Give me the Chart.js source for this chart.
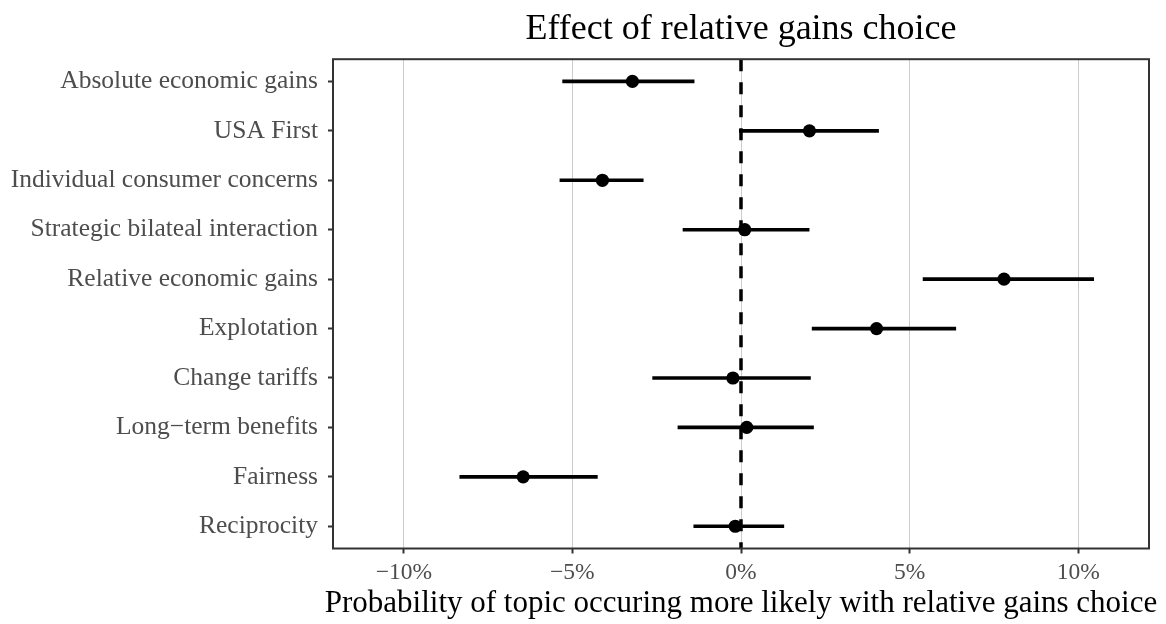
<!DOCTYPE html>
<html>
<head>
<meta charset="utf-8">
<script src="https://cdn.jsdelivr.net/npm/chart.js@4/dist/chart.umd.min.js"></script>
<style>
  html, body { margin: 0; padding: 0; background: #ffffff; }
  #wrap { width: 1166px; height: 624px; position: relative; }
</style>
</head>
<body>
<div id="wrap"><canvas id="c" width="1166" height="624"></canvas></div>
<script>
// ---- data (top-to-bottom order as shown) ----
const categories = [
  "Absolute economic gains",
  "USA First",
  "Individual consumer concerns",
  "Strategic bilateal interaction",
  "Relative economic gains",
  "Explotation",
  "Change tariffs",
  "Long\u2212term benefits",
  "Fairness",
  "Reciprocity"
];
const estimates = [-3.22, 2.03, -4.11, 0.11, 7.80, 4.02, -0.24, 0.17, -6.46, -0.17];
const lower     = [-5.29, -0.05, -5.37, -1.72, 5.40, 2.11, -2.62, -1.87, -8.34, -1.40];
const upper     = [-1.39, 4.08, -2.90, 2.02, 10.46, 6.37, 2.06, 2.15, -4.26, 1.27];
const xTickValues = [-10, -5, 0, 5, 10];
const xTickLabels = ["\u221210%", "\u22125%", "0%", "5%", "10%"];
const referenceX = 0;

const titleText = "Effect of relative gains choice";
const xTitleText = "Probability of topic occuring more likely with relative gains choice";

// ---- scale bounds ----
const X_MIN = -12.1, X_MAX = 12.1;
const Y_MIN = 0.55, Y_MAX = 10.45;

const FONT = "'Liberation Serif', 'Times New Roman', serif";

const panelBorder = {
  id: 'panelBorder',
  afterDatasetsDraw(chart) {
    const a = chart.chartArea, ctx = chart.ctx;
    ctx.save();
    ctx.strokeStyle = '#333333';
    ctx.lineWidth = 2;
    ctx.strokeRect(a.left, a.top, a.right - a.left, a.bottom - a.top);
    ctx.restore();
  }
};

// x-axis title drawn without Chart.js' maxWidth squeeze, centred on the panel
const xAxisTitle = {
  id: 'xAxisTitle',
  afterDraw(chart) {
    const a = chart.chartArea, ctx = chart.ctx;
    ctx.save();
    ctx.fillStyle = '#000000';
    ctx.font = "31px " + FONT;
    ctx.textAlign = 'center';
    ctx.textBaseline = 'alphabetic';
    ctx.fillText(xTitleText, (a.left + a.right) / 2, 612);
    ctx.restore();
  }
};

new Chart(document.getElementById('c'), {
  type: 'scatter',
  data: {
    datasets: [
      {
        type: 'line',
        label: 'zero',
        data: [{x: referenceX, y: Y_MIN}, {x: referenceX, y: Y_MAX}],
        borderColor: '#000000',
        borderWidth: 3.5,
        borderDash: [12, 11],
        pointRadius: 0,
        fill: false,
        order: 3
      },
      {
        type: 'bar',
        label: 'ci',
        indexAxis: 'y',
        data: categories.map((c, i) => ({y: i + 1, x: [lower[i], upper[i]]})),
        backgroundColor: '#000000',
        borderWidth: 0,
        barThickness: 3,
        order: 2
      },
      {
        type: 'scatter',
        label: 'est',
        data: categories.map((c, i) => ({x: estimates[i], y: i + 1})),
        backgroundColor: '#000000',
        borderColor: '#000000',
        pointRadius: 6.6,
        pointHoverRadius: 6.6,
        borderWidth: 0,
        order: 1
      }
    ]
  },
  options: {
    responsive: false,
    animation: false,
    events: [],
    layout: { padding: { left: 0, right: 17, top: 0, bottom: 0 } },
    plugins: {
      legend: { display: false },
      tooltip: { enabled: false },
      title: {
        display: true,
        text: titleText,
        fullSize: false,
        color: '#000000',
        font: { family: FONT, size: 36, weight: 'normal', lineHeight: 1.2 },
        padding: { top: 8, bottom: 8 }
      }
    },
    scales: {
      x: {
        type: 'linear',
        min: X_MIN,
        max: X_MAX,
        offset: false,
        afterBuildTicks(scale) { scale.ticks = xTickValues.map(v => ({value: v})); },
        afterFit(scale) { scale.height = 75.5; },
        ticks: {
          color: '#4d4d4d',
          font: { family: FONT, size: 23.5 },
          padding: 5,
          maxRotation: 0,
          autoSkip: false,
          callback(v) { const k = xTickValues.indexOf(v); return k >= 0 ? xTickLabels[k] : ''; }
        },
        grid: {
          offset: false,
          color: '#cccccc',
          lineWidth: 1,
          drawTicks: true,
          tickLength: 5,
          tickColor: '#333333',
          tickWidth: 2
        },
        border: { display: false },
        title: { display: false }
      },
      y: {
        type: 'linear',
        min: Y_MIN,
        max: Y_MAX,
        reverse: true,
        offset: false,
        afterBuildTicks(scale) { scale.ticks = categories.map((c, i) => ({value: i + 1})); },
        afterFit(scale) { scale.width = 333; },
        ticks: {
          color: '#4d4d4d',
          font: { family: FONT, size: 25.5 },
          padding: 10,
          autoSkip: false,
          callback(v) { return categories[v - 1]; }
        },
        grid: {
          offset: false,
          drawOnChartArea: false,
          drawTicks: true,
          tickLength: 5,
          tickColor: '#333333',
          tickWidth: 2
        },
        border: { display: false }
      }
    }
  },
  plugins: [panelBorder, xAxisTitle]
});
</script>
</body>
</html>
